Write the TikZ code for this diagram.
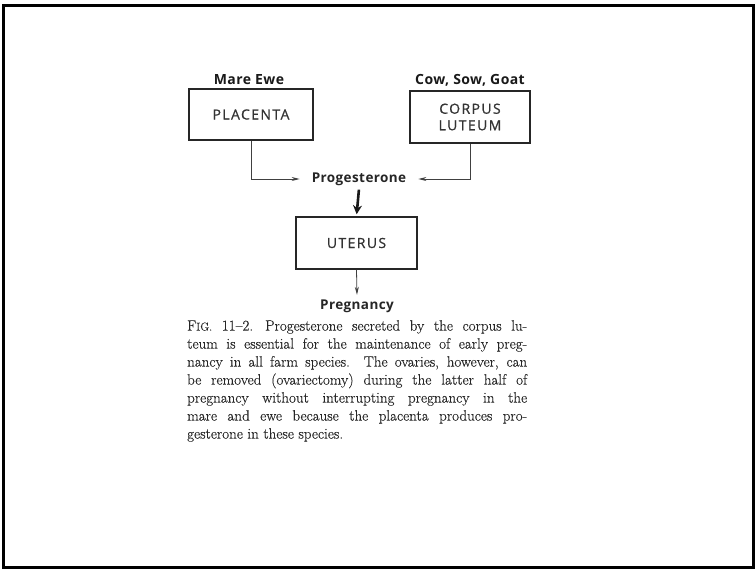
\documentclass[tikz,border=0pt]{standalone}
\usepackage{fontspec}
\newfontfamily\labelfont{Open Sans}[LetterSpace=3]
\newfontfamily\organfont{Open Sans}[LetterSpace=10, FakeBold=0.8]
\newfontfamily\capfont{Latin Modern Roman}[Ligatures=TeX, FakeBold=0.3]
\usetikzlibrary{arrows.meta}

\begin{document}
\begin{tikzpicture}[x=1pt,y=-1pt,
  organ/.style={draw=black!85, line width=1.5pt, minimum width=124pt, minimum height=51pt,
    align=center, font=\organfont\fontsize{14}{16.5}\selectfont, text=black!80},
  species/.style={font=\labelfont\bfseries\fontsize{14}{15}\selectfont, text=black!90},
  hormone/.style={font=\labelfont\bfseries\fontsize{13.5}{15}\selectfont, text=black!85},
  feed/.style={draw=black!75, line width=0.8pt, -{Stealth[length=8pt,width=4pt]}},
  main/.style={draw=black!90, line width=2.6pt, -{Stealth[length=9pt,width=9pt]}},
  caption/.style={font=\capfont\fontsize{15}{18}\selectfont, text=black!85, text width=340pt, align=justify, inner sep=0pt}
]
  % page frame
  \useasboundingbox (0,0) rectangle (756,571);
  \draw[line width=3pt] (3.5,5) rectangle (753.5,567.5);

  % hormone sources
  \node[organ] (placenta) at (251,114.5) {PLACENTA};
  \node[organ, minimum width=120pt, minimum height=52pt] (corpus) at (470,117) {CORPUS\\LUTEUM};
  \node[species, anchor=base] (mare) at (249,84) {Mare Ewe};
  \node[species, anchor=base] (cow) at (470,84) {Cow, Sow, Goat};

  % hormone, target organ and outcome
  \node[hormone, inner xsep=12pt, inner ysep=3pt] (prog) at (359,179) {Progesterone};
  \node[organ, minimum width=121pt, minimum height=52pt] (uterus) at (356.5,243) {UTERUS};
  \node[hormone, anchor=base] (preg) at (357,309) {Pregnancy};

  % connectors
  \draw[feed] (placenta.south) |- (prog.west);
  \draw[feed] (corpus.south) |- (prog.east);
  \draw[main, shorten <=1pt, shorten >=2pt] (prog.south) -- (uterus.north);
  \draw[feed, shorten >=1pt] (uterus.south) -- (preg.north);

  % figure caption
  \node[caption, anchor=north west] (cap) at (187,320) {%
    F{\fontsize{11.5}{12}\selectfont IG.} 11–2.\hspace{0.8em}Progesterone secreted by the corpus lu-\linebreak
    teum is essential for the maintenance of early preg-\linebreak
    nancy in all farm species. The ovaries, however, can\linebreak
    be removed (ovariectomy) during the latter half of\linebreak
    pregnancy without interrupting pregnancy in the\linebreak
    mare and ewe because the placenta produces pro-\linebreak
    gesterone in these species.};
\end{tikzpicture}
\end{document}
